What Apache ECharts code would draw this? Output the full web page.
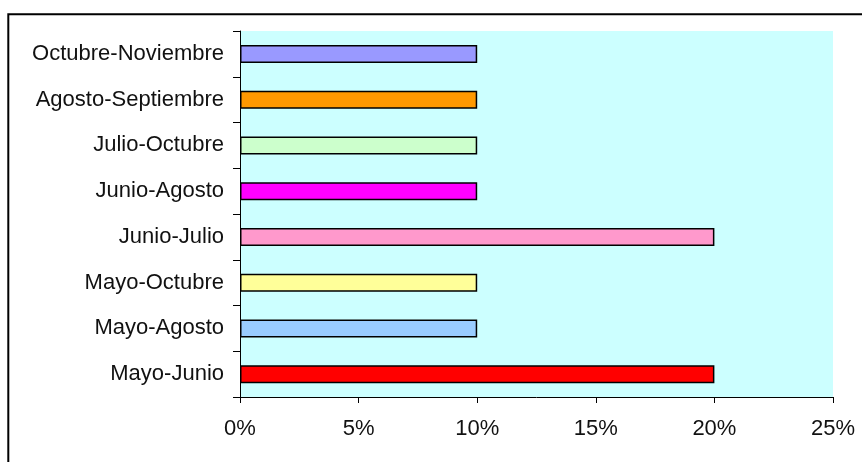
<!DOCTYPE html>
<html>
<head>
<meta charset="utf-8">
<script src="https://cdn.jsdelivr.net/npm/echarts@6/dist/echarts.min.js"></script>
<style>
  html, body { margin: 0; padding: 0; background: #fff; }
  #chart { width: 862px; height: 462px; }
</style>
</head>
<body>
<div id="chart"></div>
<script>
// Periods, listed bottom to top along the category axis
const categories = [
  'Mayo-Junio', 'Mayo-Agosto', 'Mayo-Octubre', 'Junio-Julio',
  'Junio-Agosto', 'Julio-Octubre', 'Agosto-Septiembre', 'Octubre-Noviembre'
];
// Share of each period, in percent
const values = [20, 10, 10, 20, 10, 10, 10, 10];
// Fill colour of each bar
const barColors = [
  '#FF0000', '#99CCFF', '#FFFF99', '#FF99CC',
  '#FF00FF', '#CCFFCC', '#FF9900', '#9999FF'
];
// Value axis ticks
const axisMax = 25;
const axisStep = 5;

const font = 'Liberation Sans, Arial, sans-serif';
const chart = echarts.init(document.getElementById('chart'), null, { renderer: 'canvas' });

chart.setOption({
  animation: false,
  backgroundColor: '#ffffff',
  graphic: [{
    type: 'rect',
    shape: { x: 8.3, y: 14.3, width: 900, height: 500 },
    style: { fill: 'none', stroke: '#000', lineWidth: 2 },
    silent: true
  }],
  grid: {
    left: 240, top: 31, right: 29, bottom: 65,
    show: true, backgroundColor: '#CCFFFF', borderWidth: 0,
    outerBoundsMode: 'none'
  },
  xAxis: {
    type: 'value',
    min: 0, max: axisMax, interval: axisStep,
    axisLine: { show: true, lineStyle: { color: '#000', width: 1 } },
    axisTick: { show: true, length: 6, lineStyle: { color: '#000' } },
    splitLine: { show: false },
    axisLabel: {
      margin: 21, color: '#111', fontSize: 22, fontFamily: font,
      formatter: '{value}%'
    }
  },
  yAxis: {
    type: 'category',
    data: categories,
    axisLine: { show: true, lineStyle: { color: '#000', width: 1 } },
    axisTick: { show: true, length: 7, lineStyle: { color: '#000' } },
    axisLabel: { margin: 16, color: '#111', fontSize: 22, fontFamily: font }
  },
  series: [{
    type: 'bar',
    barWidth: 18,
    data: values.map((v, i) => ({
      value: v,
      itemStyle: { color: barColors[i], borderColor: '#000', borderWidth: 1.5 }
    }))
  }]
});
</script>
</body>
</html>
